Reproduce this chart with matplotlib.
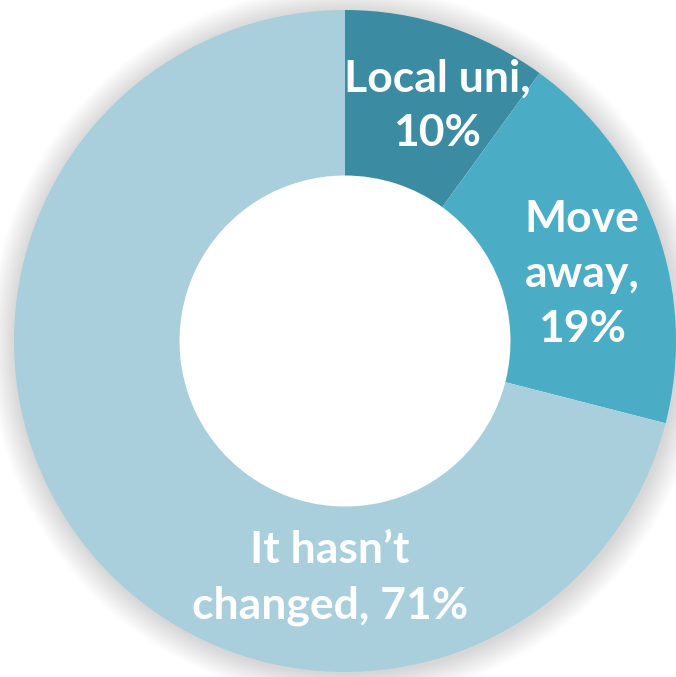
import matplotlib.pyplot as plt
from matplotlib.patches import Wedge

labels = ["Local uni,\n10%", "Move\naway,\n19%", "It hasn\u2019t\nchanged, 71%"]
values = [10, 19, 71]
colors = ["#3B8BA3", "#4BACC6", "#A9CFDD"]

W, H = 676, 677
cx, cy, R = 345, 341, 331

fig = plt.figure(figsize=(W / 100, H / 100), dpi=100)
ax = fig.add_axes([0, 0, 1, 1])

# soft outer shadow
for i in range(20):
    ax.add_patch(Wedge((0.004, -0.006), 1.0 + 0.004 * (i + 1), 0, 360,
                       width=0.004 * (i + 1) + 0.01, facecolor="black",
                       alpha=0.007, linewidth=0, zorder=0))

wedges, _ = ax.pie(values, colors=colors, startangle=90, counterclock=False,
                   radius=1.0, wedgeprops=dict(width=0.5, linewidth=0, zorder=2))

ax.set_xlim(-cx / R, (W - cx) / R)
ax.set_ylim(-(H - cy) / R, cy / R)
ax.set_aspect("equal")
ax.axis("off")

# label positions (data units, radius 1)
pos = [((437 - cx) / R, (cy - 106) / R),
       ((582 - cx) / R, (cy - 274) / R),
       ((330 - cx) / R, (cy - 578) / R)]
for txt, (x, y) in zip(labels, pos):
    ax.text(x, y, txt, ha="center", va="center", color="white", zorder=3,
            fontsize=32, fontweight="bold", family=["Lato", "DejaVu Sans"],
            linespacing=1.45)

fig.savefig("out.png", dpi=100, facecolor="white")
